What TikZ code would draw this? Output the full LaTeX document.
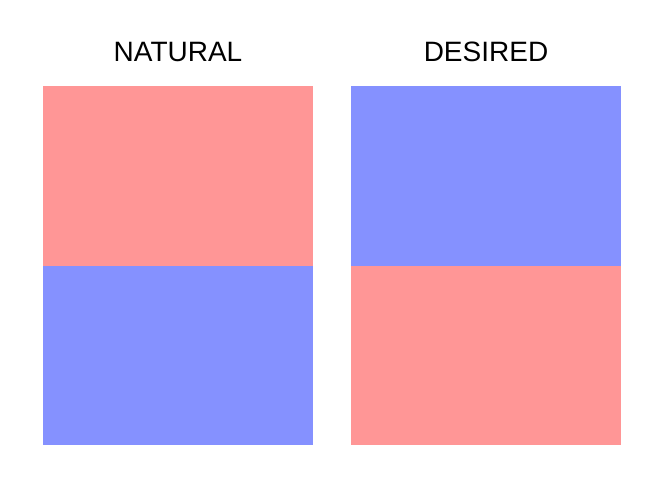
\documentclass[tikz,border=0pt]{standalone}
\usepackage{fontspec}
\setmainfont{Liberation Sans}
\definecolor{lred}{RGB}{255,150,150}
\definecolor{lblue}{RGB}{133,145,255}
\begin{document}
\begin{tikzpicture}[x=1pt,y=-1pt,
  title/.style={font=\fontsize{28}{30}\selectfont, anchor=base, inner sep=0pt},
  block/.style={inner sep=0pt, outer sep=0pt, minimum width=270pt, minimum height=179.5pt, anchor=north west}]
\useasboundingbox (0,0) rectangle (660,490);
\node[title] (t1) at (178,61.7) {NATURAL};
\node[title] (t2) at (486,61.7) {DESIRED};
\node[block, fill=lred] (a1) at (43,86) {};
\node[block, fill=lblue] (a2) at (43,265.5) {};
\node[block, fill=lblue] (b1) at (351,86) {};
\node[block, fill=lred] (b2) at (351,265.5) {};
\end{tikzpicture}
\end{document}
